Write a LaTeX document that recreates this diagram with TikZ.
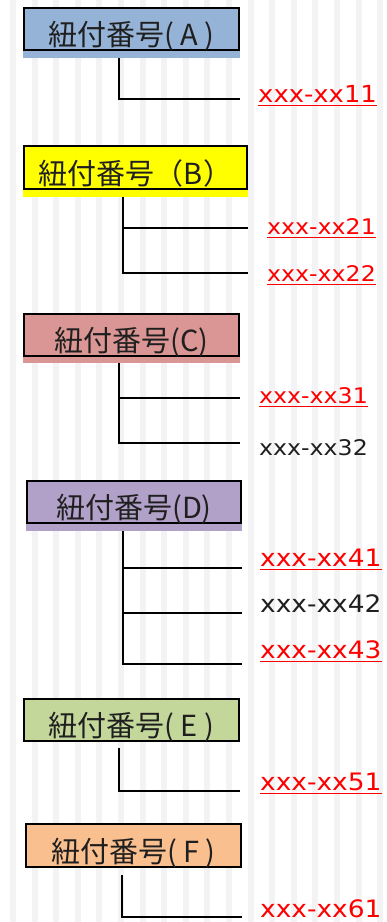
\documentclass[tikz,border=0pt]{standalone}
\usepackage{fontspec}
\newfontfamily\jp{Noto Sans CJK JP}
\newfontfamily\labfont[FakeStretch=1.1]{DejaVu Sans}
\definecolor{cA}{HTML}{95B3D7}
\definecolor{cB}{HTML}{FFFF00}
\definecolor{cC}{HTML}{DA9694}
\definecolor{cD}{HTML}{B1A0C7}
\definecolor{cE}{HTML}{C4D79B}
\definecolor{cF}{HTML}{FABF8F}
\definecolor{stripe}{HTML}{F3F3F5}
\definecolor{lnkred}{HTML}{FF0000}
\begin{document}
\begin{tikzpicture}[x=1pt,y=-1pt,
  keybox/.style={draw=black, line width=2.4pt, inner sep=0pt, minimum height=42,
    text height=33pt, text depth=0pt, text=black!88,
    font=\jp\fontsize{29}{29}\selectfont},
  conn/.style={draw=black, line width=2.2pt},
  lab/.style={anchor=base west, inner sep=0pt, text depth=0pt},
  redlab/.style={lab, text=lnkred},
  ul/.style={draw=lnkred, line width=1.5pt}
]
\useasboundingbox (0,0) rectangle (387,922);
\fill[white] (0,0) rectangle (387,922);
\foreach \i in {0,...,17} \fill[stripe] ({10+21.6*\i},0) rectangle ({16+21.6*\i},922);

% ---------- A ----------
\fill[cA] (23,40) rectangle (240,58);
\node[keybox, fill=cA, minimum width=215] (A) at (131.5,29) {紐付番号( A )};
\node[redlab, font=\labfont\fontsize{23.5}{24}\selectfont] (a1l) at (258,102) {xxx-xx11};
\draw[ul] ([yshift=-3.5pt]a1l.base west) -- ([yshift=-3.5pt]a1l.base east);
\coordinate (a0) at (119,58);
\coordinate (a1) at (240,99);
\draw[conn] (a0) |- (a1);

% ---------- B ----------
\fill[cB] (23,180) rectangle (248,197);
\node[keybox, fill=cB, minimum width=223, minimum height=43] (B) at (135.5,167.5) {紐付番号（B）};
\node[redlab, font=\labfont\fontsize{21.5}{22}\selectfont] (b1l) at (267,234) {xxx-xx21};
\node[redlab, font=\labfont\fontsize{21.5}{22}\selectfont] (b2l) at (267,281) {xxx-xx22};
\draw[ul] ([yshift=-3.5pt]b1l.base west) -- ([yshift=-3.5pt]b1l.base east);
\draw[ul] ([yshift=-3.5pt]b2l.base west) -- ([yshift=-3.5pt]b2l.base east);
\coordinate (b0) at (123,197);
\coordinate (b1) at (248,228);
\coordinate (b2) at (248,273);
\draw[conn] (b0) |- (b2);
\draw[conn] (b0 |- b1) -- (b1);

% ---------- C ----------
\fill[cC] (23,345) rectangle (240,363);
\node[keybox, fill=cC, minimum width=215] (C) at (131.5,335) {紐付番号(C)};
\node[redlab, font=\labfont\fontsize{21.5}{22}\selectfont] (c1l) at (259,403) {xxx-xx31};
\node[lab, text=black!88, font=\labfont\fontsize{21.5}{22}\selectfont] (c2l) at (259,455) {xxx-xx32};
\draw[ul] ([yshift=-3.5pt]c1l.base west) -- ([yshift=-3.5pt]c1l.base east);
\coordinate (c0) at (119,363);
\coordinate (c1) at (240,398);
\coordinate (c2) at (240,443);
\draw[conn] (c0) |- (c2);
\draw[conn] (c0 |- c1) -- (c1);

% ---------- D ----------
\fill[cD] (26,512) rectangle (242,531);
\node[keybox, fill=cD, minimum width=214] (D) at (134,502) {紐付番号(D)};
\node[redlab, font=\labfont\fontsize{24}{24}\selectfont] (d1l) at (260,566) {xxx-xx41};
\node[lab, text=black!88, font=\labfont\fontsize{24}{24}\selectfont] (d2l) at (260,612) {xxx-xx42};
\node[redlab, font=\labfont\fontsize{24}{24}\selectfont] (d3l) at (260,658) {xxx-xx43};
\draw[ul] ([yshift=-3.5pt]d1l.base west) -- ([yshift=-3.5pt]d1l.base east);
\draw[ul] ([yshift=-3.5pt]d3l.base west) -- ([yshift=-3.5pt]d3l.base east);
\coordinate (d0) at (123,531);
\coordinate (d1) at (242,568);
\coordinate (d2) at (242,613);
\coordinate (d3) at (242,664);
\draw[conn] (d0) |- (d3);
\draw[conn] (d0 |- d1) -- (d1);
\draw[conn] (d0 |- d2) -- (d2);

% ---------- E ----------
\node[keybox, fill=cE, minimum width=215] (E) at (131.5,720) {紐付番号( E )};
\node[redlab, font=\labfont\fontsize{24}{24}\selectfont] (e1l) at (260,790) {xxx-xx51};
\draw[ul] ([yshift=-3.5pt]e1l.base west) -- ([yshift=-3.5pt]e1l.base east);
\coordinate (e0) at (119,748);
\coordinate (e1) at (240,791);
\draw[conn] (e0) |- (e1);

% ---------- F ----------
\node[keybox, fill=cF, minimum width=215, minimum height=43] (F) at (133.5,845.5) {紐付番号( F )};
\node[redlab, font=\labfont\fontsize{24}{24}\selectfont] (f1l) at (260,917) {xxx-xx61};
\coordinate (f0) at (122,875);
\coordinate (f1) at (242,917);
\draw[conn] (f0) |- (f1);
\end{tikzpicture}
\end{document}
